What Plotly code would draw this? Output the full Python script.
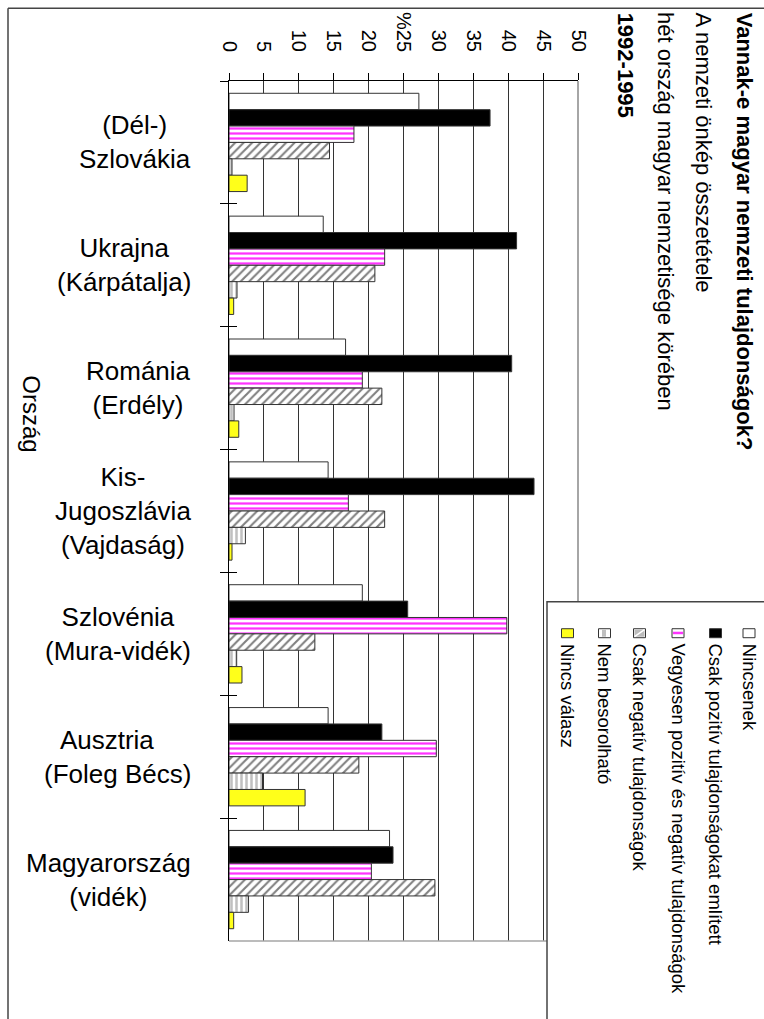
import plotly.graph_objects as go

# ---------------- data ----------------
country_keys = ["Szlovákia", "Ukrajna", "Románia", "Jugoszlávia",
                "Szlovénia", "Ausztria", "Magyarország"]
country_labels = ["(Dél-)<br>Szlovákia", "Ukrajna<br>(Kárpátalja)",
                  "Románia<br>(Erdély)", "Kis-<br>Jugoszlávia<br>(Vajdaság)",
                  "Szlovénia<br>(Mura-vidék)",
                  "Ausztria\u00a0\u00a0\u00a0<br>(Foleg Bécs)",
                  "Magyarország<br>(vidék)"]

series_names = ["Nincsenek",
                "Csak pozitív tulajdonságokat említett",
                "Vegyesen pozitív és negatív tulajdonságok",
                "Csak negatív tulajdonságok",
                "Nem besorolható",
                "Nincs válasz"]

nincsenek       = [27.2, 13.5, 16.7, 14.2, 19.1, 14.2, 23.0]
csak_pozitiv    = [37.4, 41.2, 40.5, 43.7, 25.6, 21.9, 23.5]
vegyesen        = [17.9, 22.3, 19.1, 17.1, 39.8, 29.7, 20.4]
csak_negativ    = [14.4, 20.9, 21.9, 22.3, 12.3, 18.6, 29.5]
nem_besorolhato = [0.43, 1.15, 0.72, 2.35, 1.1, 4.8, 2.8]
nincs_valasz    = [2.6, 0.67, 1.4, 0.43, 1.86, 10.9, 0.67]

value_ticks = [0, 5, 10, 15, 20, 25, 30, 35, 40, 45, 50]
value_tick_text = ["0", "5", "10", "15", "20", "%25", "30", "35", "40", "45", "50"]

title_lines = ["Vannak-e magyar nemzeti tulajdonságok?",
               "A nemzeti önkép összetétele",
               "hét ország magyar nemzetisége körében",
               "1992-1995"]
title_bold = [True, False, False, True]
axis_title = "Ország"

# ---------------- geometry helpers ----------------
W, H = 764, 1019
PL, PR, PT, PB = 229, 578, 79, 941   # plot area in pixels
FONT = "Liberation Sans, Arial, sans-serif"


def px(xp):
    return (xp - PL) / (PR - PL)


def py(yp):
    return (PB - yp) / (PB - PT)


# Arial / Liberation Sans advance widths (1/1000 em) for text length estimates
_REG = {" ": 278, "-": 333, "?": 556, "(": 333, ")": 333, "%": 889,
        "A": 667, "B": 667, "C": 722, "N": 722, "V": 667,
        "a": 556, "b": 556, "c": 500, "d": 556, "e": 556, "g": 556, "h": 556,
        "i": 222, "j": 222, "k": 500, "l": 222, "m": 833, "n": 556, "o": 556,
        "p": 556, "r": 333, "s": 500, "t": 278, "u": 556, "v": 500, "y": 500,
        "z": 500, "á": 556, "é": 556, "í": 278, "ó": 556, "ö": 556}
_BOLD = {" ": 278, "-": 333, "?": 611, "V": 722, "a": 556, "d": 611, "e": 556,
         "g": 611, "i": 278, "j": 278, "k": 556, "l": 278, "m": 889, "n": 611,
         "o": 611, "r": 389, "s": 556, "t": 333, "u": 611, "y": 556, "z": 500,
         "á": 556}


def text_len(s, size, bold=False):
    table = _BOLD if bold else _REG
    return sum(table.get(c, 556) for c in s) / 1000.0 * size


LINE = "#333333"
styles = [
    dict(color="white"),
    dict(color="black"),
    dict(color="white", pattern=dict(shape="-", fgcolor="#ff33ff", bgcolor="white",
                                     size=5, solidity=0.45, fillmode="replace")),
    dict(color="white", pattern=dict(shape="/", fgcolor="#808080", bgcolor="white",
                                     size=6, solidity=0.35, fillmode="replace")),
    dict(color="white", pattern=dict(shape="|", fgcolor="#c0c0c0", bgcolor="white",
                                     size=5, solidity=0.5, fillmode="replace")),
    dict(color="#ffff1a"),
]
all_values = [nincsenek, csak_pozitiv, vegyesen, csak_negativ, nem_besorolhato, nincs_valasz]

fig = go.Figure()
for name, vals, st in zip(series_names, all_values, styles):
    marker = dict(st)
    marker["line"] = dict(color=LINE, width=1)
    fig.add_trace(go.Bar(orientation="h", y=country_keys, x=vals, name=name,
                         marker=marker, showlegend=False))

# helper trace for the inner half of the category ticks
fig.add_trace(go.Scatter(x=[0] * len(country_keys), y=country_keys, yaxis="y2",
                         mode="markers", marker=dict(opacity=0), showlegend=False,
                         hoverinfo="skip"))

fig.update_layout(
    width=W, height=H,
    margin=dict(l=PL, r=W - PR, t=PT, b=H - PB, pad=0),
    paper_bgcolor="white", plot_bgcolor="white",
    barmode="group", bargap=0.2,
    showlegend=False,
    font=dict(family=FONT, color="black"),
    xaxis=dict(range=[0, 50], side="top", tickmode="array", tickvals=value_ticks,
               ticktext=value_tick_text, tickangle=90, ticks="outside", ticklen=7,
               tickcolor="black", showline=True, linecolor="black", linewidth=1,
               showgrid=True, gridcolor="#333333", gridwidth=1, zeroline=False,
               ticklabelstandoff=14,
               tickfont=dict(size=20, family=FONT, color="black"), fixedrange=True),
    yaxis=dict(type="category", categoryorder="array", categoryarray=country_keys,
               range=[len(country_keys) - 0.5, -0.5], tickson="boundaries",
               ticks="outside", ticklen=8, tickcolor="black", showticklabels=False,
               showline=True, linecolor="black", linewidth=1, showgrid=False,
               zeroline=False),
    yaxis2=dict(type="category", categoryorder="array", categoryarray=country_keys,
                range=[len(country_keys) - 0.5, -0.5], tickson="boundaries",
                ticks="inside", ticklen=8, tickcolor="black", showticklabels=False,
                showline=False, showgrid=False, zeroline=False, overlaying="y",
                anchor="x", side="left"),
)

shapes = []
# plot-area border (right and bottom, grey)
shapes.append(dict(type="line", xref="paper", yref="paper", x0=1, x1=1, y0=0, y1=1,
                   line=dict(color="#a6a6a6", width=2), layer="above"))
shapes.append(dict(type="line", xref="paper", yref="paper", x0=0, x1=1, y0=0, y1=0,
                   line=dict(color="#a6a6a6", width=1.5), layer="above"))
# outer frame (left and top)
shapes.append(dict(type="line", xref="paper", yref="paper", x0=px(8), x1=px(8),
                   y0=py(6), y1=py(1030), line=dict(color="#444444", width=1.5)))
shapes.append(dict(type="line", xref="paper", yref="paper", x0=px(8), x1=px(780),
                   y0=py(6), y1=py(6), line=dict(color="#444444", width=1.5)))
# legend box
shapes.append(dict(type="rect", xref="paper", yref="paper", x0=px(547), x1=px(790),
                   y0=py(601), y1=py(1040), fillcolor="white",
                   line=dict(color="#444444", width=1.5), layer="above"))

legend_x = [749, 715.5, 678, 639.5, 604.5, 567.5]
sw_top, sw_bot, sw_half = 628, 637, 6
for i, cx in enumerate(legend_x):
    x0, x1 = px(cx - sw_half), px(cx + sw_half)
    y0, y1 = py(sw_bot), py(sw_top)
    fill = {0: "white", 1: "black", 2: "white", 3: "white", 4: "white", 5: "#ffff1a"}[i]
    shapes.append(dict(type="rect", xref="paper", yref="paper", x0=x0, x1=x1, y0=y0,
                       y1=y1, fillcolor=fill, line=dict(color=LINE, width=1),
                       layer="above"))
    if i == 2:
        shapes.append(dict(type="rect", xref="paper", yref="paper", x0=px(cx - sw_half + 1),
                           x1=px(cx + sw_half - 1), y0=py(633.5), y1=py(631),
                           fillcolor="#ff33ff", line=dict(width=0), layer="above"))
    if i == 3:
        shapes.append(dict(type="rect", xref="paper", yref="paper", x0=px(cx - sw_half + 1),
                           x1=px(cx + sw_half - 1), y0=py(sw_bot - 1), y1=py(sw_top + 1),
                           fillcolor="#bbbbbb", line=dict(width=0), layer="above"))
        shapes.append(dict(type="line", xref="paper", yref="paper", x0=px(cx - sw_half + 1),
                           x1=px(cx + sw_half - 1), y0=py(sw_bot - 1), y1=py(sw_top + 1),
                           line=dict(color="white", width=1.5), layer="above"))
    if i == 4:
        shapes.append(dict(type="rect", xref="paper", yref="paper", x0=px(cx - 2.5),
                           x1=px(cx + 1.5), y0=py(sw_bot - 1), y1=py(sw_top + 1),
                           fillcolor="#bfbfbf", line=dict(width=0), layer="above"))

annotations = []
LEG_SIZE = 18.5
LEG_START = 643
for cx, name in zip(legend_x, series_names):
    yc = LEG_START + text_len(name, LEG_SIZE) / 2
    annotations.append(dict(xref="paper", yref="paper", x=px(cx), y=py(yc),
                            xanchor="center", yanchor="middle", text=name, textangle=90,
                            showarrow=False,
                            font=dict(size=LEG_SIZE, family=FONT, color="black")))

TITLE_SIZE = 22
TITLE_START = 10
title_x = [744, 704, 666, 625]
for cx, t, b in zip(title_x, title_lines, title_bold):
    yc = TITLE_START + text_len(t, TITLE_SIZE, b) / 2
    annotations.append(dict(xref="paper", yref="paper", x=px(cx), y=py(yc),
                            xanchor="center", yanchor="middle",
                            text=("<b>%s</b>" % t) if b else t, textangle=90,
                            showarrow=False,
                            font=dict(size=TITLE_SIZE, family=FONT, color="black")))

annotations.append(dict(xref="paper", yref="paper", x=px(32), y=py(412),
                        xanchor="center", yanchor="middle", text=axis_title, textangle=90,
                        showarrow=False, font=dict(size=24, family=FONT, color="black")))

for key, lab in zip(country_keys, country_labels):
    annotations.append(dict(xref="paper", yref="y", x=px(193), y=key, xanchor="right",
                            yanchor="middle", align="center", text=lab, showarrow=False,
                            font=dict(size=26, family=FONT, color="black")))

fig.update_layout(shapes=shapes, annotations=annotations)
fig.write_html(
    "out.html",
    config={"displayModeBar": False},
    post_script="document.body.style.margin='0px';document.body.style.overflow='hidden';",
)
